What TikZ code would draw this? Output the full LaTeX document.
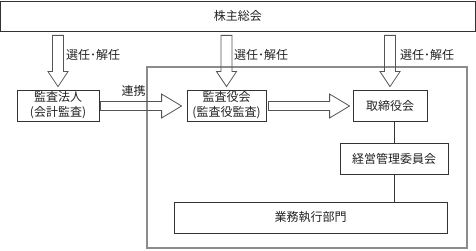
\documentclass[tikz,border=0pt]{standalone}
\usepackage{fontspec}
\newfontfamily\jp{Noto Sans CJK JP}
\usetikzlibrary{calc}
\definecolor{boxc}{HTML}{333333}
\definecolor{framec}{HTML}{8C8C8C}
\definecolor{arrc}{HTML}{555555}
\definecolor{txtc}{HTML}{222222}
\newcommand\blockdown[2]{%
  \coordinate (s) at (#2.north |- #1.south);
  \coordinate (t) at (#2.north);
  \draw[arrline] ($(s)+(-5.5,4)$) -- ($(t)+(-5.5,-18)$) -- ($(t)+(-10,-18)$)
    -- ($(t)+(0,-3)$) -- ($(t)+(10,-18)$) -- ($(t)+(5.5,-18)$)
    -- ($(s)+(5.5,4)$) -- cycle;}
\newcommand\blockright[4]{%
  \coordinate (s) at ($(#1.east)+(0,0.5)$);
  \coordinate (t) at (#2.west |- s);
  \draw[arrline] ($(s)+(#3,-4.5)$) -- ($(t)+(-#4-20,-4.5)$) -- ($(t)+(-#4-20,-12)$)
    -- ($(t)+(-#4,0)$) -- ($(t)+(-#4-20,12)$) -- ($(t)+(-#4-20,4.5)$)
    -- ($(s)+(#3,4.5)$) -- cycle;}
\begin{document}
\begin{tikzpicture}[x=1pt,y=-1pt,
  box/.style={draw=boxc, line width=0.8pt, inner sep=0pt, text=txtc,
    font=\jp\fontsize{12}{15}\selectfont, align=center},
  lbl/.style={inner sep=0pt, text=txtc, font=\jp\fontsize{12}{15}\selectfont},
  arrline/.style={draw=arrc, line width=0.8pt, line join=miter},
  conn/.style={draw=boxc, line width=0.8pt}]
\useasboundingbox (0,0) rectangle (476,251);
\draw[framec, line width=1.6pt] (147,67) rectangle (467,248);
\node[box, minimum width=475pt, minimum height=30pt] (top) at (237.75,16) {株主総会};
\node[box, minimum width=82pt, minimum height=31pt] (hojin) at (58,105.5) {監査法人\\(会計監査)};
\node[box, minimum width=79pt, minimum height=31pt] (kansa) at (226.5,105.5) {監査役会\\(監査役監査)};
\node[box, minimum width=74pt, minimum height=31pt] (tori) at (390,105.5) {取締役会};
\node[box, minimum width=108pt, minimum height=31pt] (keiei) at (394,158.5) {経営管理委員会};
\node[box, minimum width=273pt, minimum height=31pt] (gyomu) at (310.5,217.5) {業務執行部門};
\blockdown{top}{hojin}
\blockdown{top}{kansa}
\blockdown{top}{tori}
\blockright{hojin}{kansa}{1}{5}
\blockright{kansa}{tori}{2}{3}
\draw[conn] (keiei.north) -- (keiei.north |- tori.south);
\draw[conn] (keiei.south) -- (keiei.south |- gyomu.north);
\node[lbl, anchor=west] (l1) at (66,55) {選任･解任};
\node[lbl, anchor=west] (l2) at (234,55) {選任･解任};
\node[lbl, anchor=west] (l3) at (400,55) {選任･解任};
\node[lbl] (l4) at (133.5,91) {連携};
\end{tikzpicture}
\end{document}
